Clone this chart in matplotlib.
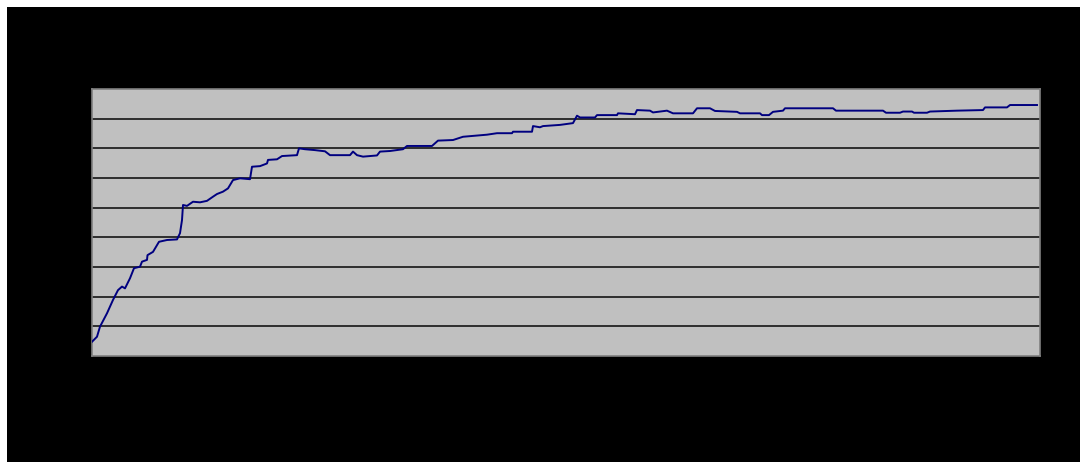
import matplotlib.pyplot as plt
from matplotlib.patches import Rectangle

# step-like curve (x = sample index, y = value on a 0..90 scale)
x_vals = [0, 5, 8, 15, 21, 26, 30, 33, 38, 42, 48, 50, 55, 55.5, 61, 67, 75, 85, 88, 90,
          91, 95, 101, 108, 115, 121, 125, 131, 136, 141, 148, 158, 160, 168, 175, 176,
          185, 190, 205, 207, 213, 223, 233, 238, 258, 261, 265, 271, 285, 288, 298, 311,
          315, 340, 346, 361, 371, 395, 405, 420, 421, 440, 441, 448, 451, 468, 481, 485,
          488, 503, 505, 525, 526, 543, 545, 558, 561, 575, 581, 601, 605, 618, 623, 645,
          648, 668, 670, 677, 681, 691, 693, 741, 744, 791, 794, 808, 811, 820, 822, 835,
          838, 865, 891, 893, 915, 918, 945]
y_vals = [4.8, 6.5, 9.9, 14.4, 18.9, 22.2, 23.4, 22.8, 26.2, 29.6, 30.1, 31.8, 32.4, 34.0,
          35.1, 38.5, 39.1, 39.3, 41.4, 45.8, 50.9, 50.6, 52.0, 51.8, 52.3, 53.7, 54.6,
          55.4, 56.5, 59.3, 59.9, 59.6, 63.8, 64.0, 64.9, 66.1, 66.3, 67.4, 67.7, 70.0,
          69.7, 69.4, 69.0, 67.7, 67.7, 68.9, 67.7, 67.2, 67.6, 68.9, 69.1, 69.7, 70.8,
          70.8, 72.6, 72.8, 73.9, 74.6, 75.1, 75.1, 75.6, 75.6, 77.5, 77.1, 77.5, 77.9,
          78.5, 81.0, 80.4, 80.4, 81.2, 81.2, 81.8, 81.5, 82.9, 82.7, 82.1, 82.7, 81.8,
          81.8, 83.5, 83.5, 82.6, 82.3, 81.8, 81.8, 81.2, 81.2, 82.3, 82.7, 83.5, 83.5,
          82.7, 82.7, 82.0, 82.0, 82.4, 82.4, 82.0, 82.0, 82.4, 82.7, 82.9, 83.8, 83.8,
          84.6, 84.6]
grid_levels = [10, 20, 30, 40, 50, 60, 70, 80]

fig = plt.figure(figsize=(10.8, 4.62), dpi=100, facecolor='white')
# black chart area with a thin white strip on the left and top
fig.patches.append(Rectangle((7 / 1080, 0), 1, 455 / 462, transform=fig.transFigure,
                             facecolor='black', edgecolor='none', zorder=-10))

ax = fig.add_axes([92 / 1080, 106 / 462, 948 / 1080, 267 / 462])
ax.set_zorder(5)
ax.set_facecolor('#c0c0c0')
for s in ax.spines.values():
    s.set_color('#808080')
    s.set_linewidth(1.2)

for g in grid_levels:
    ax.axhline(g, color='#222222', linewidth=1.3, zorder=1)

ax.plot(x_vals, y_vals, color='#000080', linewidth=1.4, zorder=3)

ax.set_xlim(0, 948)
ax.set_ylim(0, 90)
ax.set_xticks([])
ax.set_yticks([])

fig.savefig('out.png', dpi=100, facecolor=fig.get_facecolor())
